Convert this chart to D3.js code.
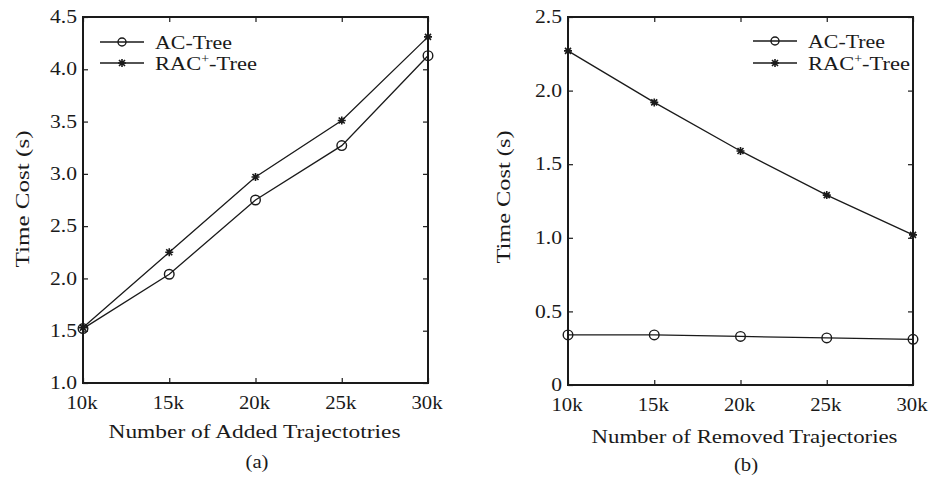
<!DOCTYPE html>
<html>
<head>
<meta charset="utf-8">
<script src="https://cdn.jsdelivr.net/npm/d3@7"></script>
<style>
  html, body { margin: 0; padding: 0; background: #fff; }
  svg { display: block; }
  text { font-family: "Liberation Serif", "DejaVu Serif", serif; fill: #1a1a1a; }
</style>
</head>
<body>
<svg id="fig" width="931" height="478"></svg>
<script>
// Number of trajectories (thousands) on the x axis
const sizes = [10, 15, 20, 25, 30];
const sizeLabels = ["10k", "15k", "20k", "25k", "30k"];

// (a) insertion time cost, seconds
const addAC  = [1.52, 2.04, 2.75, 3.27, 4.13];
const addRAC = [1.53, 2.25, 2.97, 3.51, 4.31];

// (b) deletion time cost, seconds
const remAC  = [0.34, 0.34, 0.33, 0.32, 0.31];
const remRAC = [2.27, 1.92, 1.59, 1.29, 1.02];

// y tick values and labels
const ticksA = [1.0, 1.5, 2.0, 2.5, 3.0, 3.5, 4.0, 4.5];
const ticksALabels = ["1.0", "1.5", "2.0", "2.5", "3.0", "3.5", "4.0", "4.5"];
const ticksB = [0, 0.5, 1.0, 1.5, 2.0, 2.5];
const ticksBLabels = ["0", "0.5", "1.0", "1.5", "2.0", "2.5"];

const seriesNames = ["AC-Tree", "RAC"];

const ink = "#1a1a1a";
const svg = d3.select("#fig");

// eight-armed star marker (plus and cross)
const starType = {
  draw(ctx, size) {
    const r = Math.sqrt(size) / 2;
    const d = r * 0.75;
    ctx.moveTo(-r, 0); ctx.lineTo(r, 0);
    ctx.moveTo(0, -r); ctx.lineTo(0, r);
    ctx.moveTo(-d, -d); ctx.lineTo(d, d);
    ctx.moveTo(-d, d); ctx.lineTo(d, -d);
  }
};
const starPath = d3.symbol(starType, 64)();

// horizontally widened serif text
function label(parent, x, y, str, opts = {}) {
  const sx = opts.sx || 1.15;
  const g = parent.append("g")
    .attr("transform", `translate(${x},${y})${opts.rotate ? ` rotate(${opts.rotate})` : ""} scale(${sx},1)`);
  const t = g.append("text")
    .attr("text-anchor", opts.anchor || "middle")
    .attr("font-size", opts.size || 17);
  if (opts.dy) t.attr("dy", opts.dy);
  t.text(str);
  return t;
}

function legendLabel(parent, x, y, isRac, size) {
  const t = parent.append("text")
    .attr("x", x).attr("y", y)
    .attr("font-size", size)
    .attr("textLength", isRac ? 102 : 77)
    .attr("lengthAdjust", "spacingAndGlyphs");
  if (isRac) {
    t.append("tspan").text("RAC");
    t.append("tspan").attr("font-size", size * 0.62).attr("dy", -7).text("+");
    t.append("tspan").attr("dy", 7).text("-Tree");
  } else {
    t.text(seriesNames[0]);
  }
}

function panel(cfg) {
  const g = svg.append("g");
  const x = d3.scaleLinear().domain([10, 30]).range([cfg.left, cfg.right]);
  const y = d3.scaleLinear().domain(cfg.yDomain).range([cfg.bottom, cfg.top]);
  const tickLen = 5;

  // inward ticks on all four sides
  const axL = d3.axisRight(y).tickValues(cfg.yTicks).tickSize(tickLen).tickFormat("");
  const axR = d3.axisLeft(y).tickValues(cfg.yTicks).tickSize(tickLen).tickFormat("");
  const axB = d3.axisTop(x).tickValues(sizes).tickSize(tickLen).tickFormat("");
  const axT = d3.axisBottom(x).tickValues(sizes).tickSize(tickLen).tickFormat("");
  [[axL, `translate(${cfg.left},0)`], [axR, `translate(${cfg.right},0)`],
   [axB, `translate(0,${cfg.bottom})`], [axT, `translate(0,${cfg.top})`]].forEach(([ax, tr]) => {
    const a = g.append("g").attr("transform", tr).call(ax);
    a.select(".domain").remove();
    a.selectAll("line").attr("stroke", ink).attr("stroke-width", 1.2);
  });

  // frame
  g.append("rect")
    .attr("x", cfg.left).attr("y", cfg.top)
    .attr("width", cfg.right - cfg.left).attr("height", cfg.bottom - cfg.top)
    .attr("fill", "none").attr("stroke", ink).attr("stroke-width", 2);

  // tick labels
  cfg.yTicks.forEach((v, i) => {
    label(g, cfg.left - 6, y(v), cfg.yTickLabels[i], { anchor: "end", size: 18, dy: "0.34em", sx: 1.2 });
  });
  sizes.forEach((v, i) => {
    label(g, x(v) - 1, cfg.bottom + 26, sizeLabels[i], { size: 18, sx: 1.15 });
  });

  // axis titles and caption
  g.append("text")
    .attr("x", (cfg.left + cfg.right) / 2 + cfg.xTitleShift).attr("y", cfg.xTitleY)
    .attr("text-anchor", "middle").attr("font-size", 19)
    .attr("textLength", cfg.xTitleLen).attr("lengthAdjust", "spacingAndGlyphs")
    .text(cfg.xTitle);
  g.append("g").attr("transform", `translate(${cfg.yTitleX},${cfg.yTitleY}) rotate(-90)`)
    .append("text").attr("text-anchor", "middle").attr("font-size", 19)
    .attr("textLength", cfg.yTitleLen).attr("lengthAdjust", "spacingAndGlyphs")
    .text("Time Cost (s)");
  label(g, cfg.capX, cfg.capY, cfg.caption, { size: 18, sx: 1.15 });

  // series
  const line = d3.line().x((d, i) => x(sizes[i])).y(d => y(d));
  [cfg.ac, cfg.rac].forEach(vals => {
    g.append("path").datum(vals)
      .attr("d", line).attr("fill", "none")
      .attr("stroke", ink).attr("stroke-width", 1.3);
  });
  g.selectAll(".mk-ac").data(cfg.ac).join("circle")
    .attr("cx", (d, i) => x(sizes[i])).attr("cy", d => y(d)).attr("r", 4.8)
    .attr("fill", "none").attr("stroke", ink).attr("stroke-width", 1.4);
  g.selectAll(".mk-rac").data(cfg.rac).join("path")
    .attr("d", starPath)
    .attr("transform", (d, i) => `translate(${x(sizes[i])},${y(d)})`)
    .attr("fill", "none").attr("stroke", ink).attr("stroke-width", 1.6);

  // legend
  const lg = g.append("g");
  const rows = [cfg.legY1, cfg.legY2];
  rows.forEach((ry, k) => {
    lg.append("line").attr("x1", cfg.legX).attr("x2", cfg.legX + 44)
      .attr("y1", ry).attr("y2", ry).attr("stroke", ink).attr("stroke-width", 1.3);
    if (k === 0) {
      lg.append("circle").attr("cx", cfg.legX + 22).attr("cy", ry).attr("r", 4)
        .attr("fill", "none").attr("stroke", ink).attr("stroke-width", 1.4);
    } else {
      lg.append("path").attr("d", starPath)
        .attr("transform", `translate(${cfg.legX + 22},${ry})`)
        .attr("fill", "none").attr("stroke", ink).attr("stroke-width", 1.6);
    }
    legendLabel(lg, cfg.legX + 55, ry + 6.5, k === 1, 19);
  });
}

panel({
  left: 83, right: 428, top: 17, bottom: 383,
  yDomain: [1.0, 4.5], yTicks: ticksA, yTickLabels: ticksALabels,
  ac: addAC, rac: addRAC,
  xTitle: "Number of Added Trajectotries", xTitleY: 438, xTitleLen: 292, xTitleShift: -1,
  yTitleX: 29, yTitleY: 199, yTitleLen: 137,
  caption: "(a)", capX: 257, capY: 468,
  legX: 100, legY1: 42, legY2: 63
});

panel({
  left: 568, right: 913, top: 17, bottom: 385,
  yDomain: [0, 2.5], yTicks: ticksB, yTickLabels: ticksBLabels,
  ac: remAC, rac: remRAC,
  xTitle: "Number of Removed Trajectories", xTitleY: 443, xTitleLen: 306, xTitleShift: 4,
  yTitleX: 510, yTitleY: 197, yTitleLen: 133,
  caption: "(b)", capX: 746, capY: 471,
  legX: 753, legY1: 41, legY2: 63
});
</script>
</body>
</html>
